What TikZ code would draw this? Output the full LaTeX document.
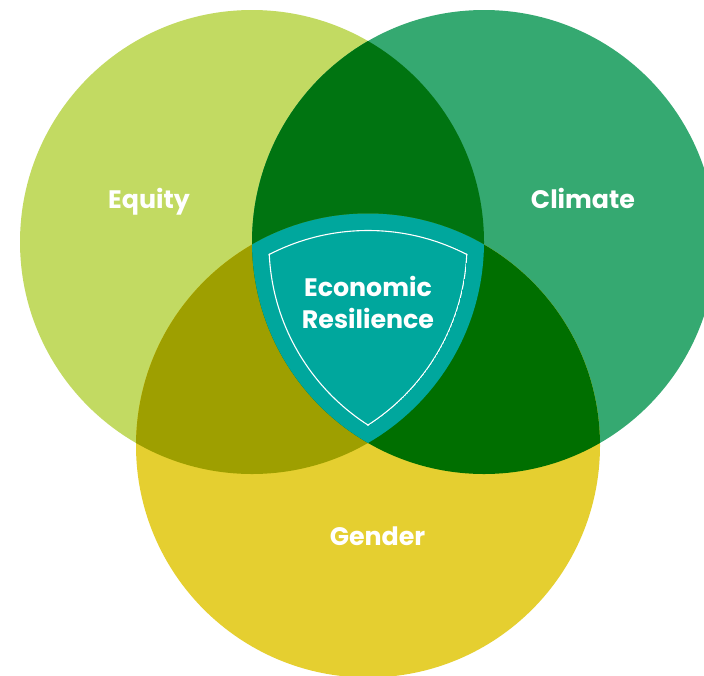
\documentclass[tikz,border=0pt]{standalone}
\usepackage{fontspec}
\setmainfont{Poppins}
\definecolor{eqc}{HTML}{C2DA62}
\definecolor{clc}{HTML}{35A971}
\definecolor{gec}{HTML}{E5CF30}
\definecolor{eqcl}{HTML}{007411}
\definecolor{eqge}{HTML}{9E9F00}
\definecolor{clge}{HTML}{006F00}
\definecolor{mid}{HTML}{00A79D}
\tikzset{
  lbl/.style={text=white,font=\fontsize{25.3}{25.3}\selectfont\bfseries,anchor=base,inner sep=0pt},
  rim/.style={white,line width=1.1pt}
}
\newcommand{\cEq}{(252,242) circle[radius=232]}
\newcommand{\cCl}{(484,242) circle[radius=232]}
\newcommand{\cGe}{(368,445.5) circle[radius=232]}
\begin{document}
\begin{tikzpicture}[x=1pt,y=-1pt]
\useasboundingbox (0,0) rectangle (704,675);
\clip (0,0) rectangle (704,675);
\fill[white] (0,0) rectangle (704,675);
\fill[eqc] \cEq;
\fill[clc] \cCl;
\fill[gec] \cGe;
\begin{scope}\clip \cEq; \fill[eqcl] \cCl; \fill[eqge] \cGe; \end{scope}
\begin{scope}\clip \cCl; \fill[clge] \cGe; \end{scope}
\begin{scope}\clip \cEq; \clip \cCl; \fill[mid] \cGe; \end{scope}
\begin{scope}
 \clip (252,244) circle[radius=215.6];
 \clip (484,244) circle[radius=215.6];
 \clip (368,445.5) circle[radius=215.6];
 \draw[rim] (368,445.5) circle[radius=215];
 \draw[rim] (252,244) circle[radius=215];
 \draw[rim] (484,244) circle[radius=215];
\end{scope}
\node[lbl] (equity) at (149,208) {Equity};
\node[lbl] (climate) at (583,208) {Climate};
\node[lbl] (gender) at (377.5,545) {Gender};
\node[lbl] (econ) at (368,296) {Economic};
\node[lbl] (resil) at (368,328) {Resilience};
\end{tikzpicture}
\end{document}
